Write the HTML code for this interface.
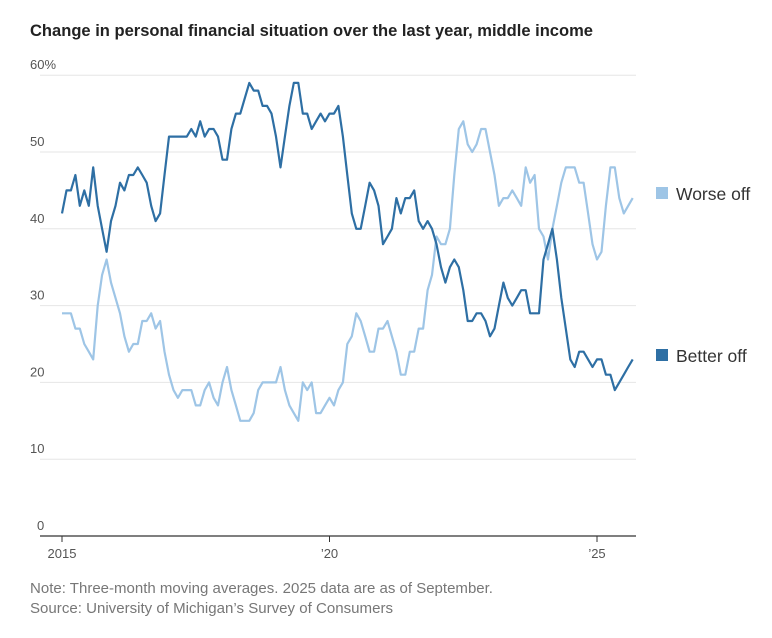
<!DOCTYPE html>
<html><head><meta charset="utf-8"><style>
body{margin:0;background:#fff;font-family:"Liberation Sans",sans-serif;}
svg text{font-family:"Liberation Sans",sans-serif;}
</style></head><body>
<svg width="772" height="633" viewBox="0 0 772 633">
<text x="30" y="36" font-size="16.5" font-weight="bold" fill="#222" textLength="563" lengthAdjust="spacingAndGlyphs">Change in personal financial situation over the last year, middle income</text>
<g id="grid"></g>
<g id="series"></g>
<g>
<rect x="656" y="187" width="12" height="12" fill="#9ec5e6"/>
<text x="676" y="200" font-size="17.5" fill="#333">Worse off</text>
<rect x="656" y="349" width="12" height="12" fill="#2e6fa4"/>
<text x="676" y="362" font-size="17.5" fill="#333">Better off</text>
</g>
<text x="30" y="593" font-size="14.5" fill="#777" textLength="463" lengthAdjust="spacingAndGlyphs">Note: Three-month moving averages. 2025 data are as of September.</text>
<text x="30" y="613" font-size="14.5" fill="#777" textLength="363" lengthAdjust="spacingAndGlyphs">Source: University of Michigan’s Survey of Consumers</text>
</svg>
<script>
const yTicks=[0,10,20,30,40,50,60];
const yTickLabels=["0","10","20","30","40","50","60%"];
const xTickYears=[2015,2020,2025];
const xTickLabels=["2015","’20","’25"];
const betterOff=[42,45,45,47,43,45,43,48,43,40,37,41,
43,46,45,47,47,48,47,46,43,41,42,47,
52,52,52,52,52,53,52,54,52,53,53,52,
49,49,53,55,55,57,59,58,58,56,56,55,
52,48,52,56,59,59,55,55,53,54,55,54,
55,55,56,52,47,42,40,40,43,46,45,43,
38,39,40,44,42,44,44,45,41,40,41,40,
38,35,33,35,36,35,32,28,28,29,29,28,
26,27,30,33,31,30,31,32,32,29,29,29,
36,38,40,36,31,27,23,22,24,24,23,22,
23,23,21,21,19,20,21,22,23];
const worseOff=[29,29,29,27,27,25,24,23,30,34,36,33,
31,29,26,24,25,25,28,28,29,27,28,24,
21,19,18,19,19,19,17,17,19,20,18,17,
20,22,19,17,15,15,15,16,19,20,20,20,
20,22,19,17,16,15,20,19,20,16,16,17,
18,17,19,20,25,26,29,28,26,24,24,27,
27,28,26,24,21,21,24,24,27,27,32,34,
39,38,38,40,47,53,54,51,50,51,53,53,
50,47,43,44,44,45,44,43,48,46,47,40,
39,36,40,43,46,48,48,48,46,46,42,38,
36,37,43,48,48,44,42,43,44];
const NS="http://www.w3.org/2000/svg";
const X0=62,PX_YEAR=53.5,Y0=536,PX_UNIT=7.68;
function xYear(y){return X0+(y-2015)*PX_YEAR;}
function xMonth(i){return X0+i*PX_YEAR/12;}
function yVal(v){return Y0-v*PX_UNIT;}
const grid=document.getElementById('grid');
yTicks.forEach((t,i)=>{
  const l=document.createElementNS(NS,'line');
  l.setAttribute('x1',40);l.setAttribute('x2',636);
  l.setAttribute('y1',yVal(t));l.setAttribute('y2',yVal(t));
  l.setAttribute('stroke',t===0?'#333':'#e6e6e6');l.setAttribute('stroke-width',t===0?1.2:1);
  
  
  grid.appendChild(l);
  const tx=document.createElementNS(NS,'text');
  tx.setAttribute('x',t===0?37:30);tx.setAttribute('y',yVal(t)-6);
  tx.setAttribute('font-size','13');tx.setAttribute('fill','#555');
  tx.textContent=yTickLabels[i];
  
  
  grid.appendChild(tx);
});
xTickYears.forEach((yr,i)=>{
  const x=xYear(yr);
  const l=document.createElementNS(NS,'line');
  l.setAttribute('x1',x);l.setAttribute('x2',x);l.setAttribute('y1',Y0);l.setAttribute('y2',Y0+6);
  l.setAttribute('stroke','#333');
  
  
  grid.appendChild(l);
  const tx=document.createElementNS(NS,'text');
  tx.setAttribute('x',x);tx.setAttribute('y',Y0+22);tx.setAttribute('text-anchor','middle');
  tx.setAttribute('font-size','13');tx.setAttribute('fill','#555');
  tx.textContent=xTickLabels[i];
  
  
  grid.appendChild(tx);
});
const ser=document.getElementById('series');
function draw(arr,color,name){
  const p=document.createElementNS(NS,'polyline');
  p.setAttribute('points',arr.map((v,i)=>xMonth(i).toFixed(1)+','+yVal(v).toFixed(1)).join(' '));
  p.setAttribute('fill','none');p.setAttribute('stroke',color);p.setAttribute('stroke-width','2.2');
  p.setAttribute('stroke-linejoin','round');
  
  
  ser.appendChild(p);
}
draw(worseOff,'#9ec5e6','worse-off-line');
draw(betterOff,'#2e6fa4','better-off-line');
</script>
</body></html>
